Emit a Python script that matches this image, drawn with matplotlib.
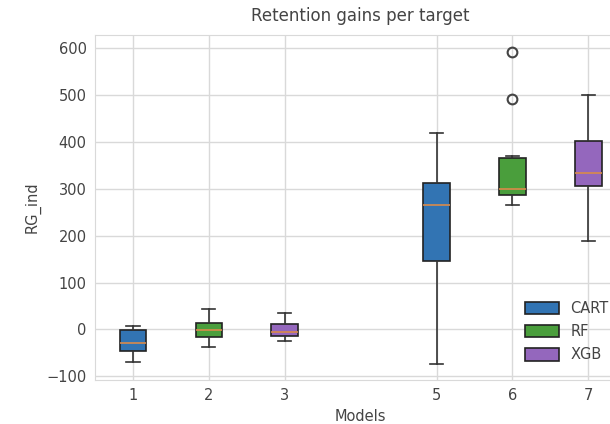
import matplotlib.pyplot as plt
from matplotlib.patches import Patch

# box statistics
models = ["CART", "RF", "XGB"]
positions = {"CART": [1, 5], "RF": [2, 6], "XGB": [3, 7]}
whislo = {"CART": [-70, -74], "RF": [-37, 266], "XGB": [-24, 189]}
q1 = {"CART": [-47, 146], "RF": [-16, 288], "XGB": [-14, 306]}
med = {"CART": [-28, 265], "RF": [-1, 300], "XGB": [-6, 333]}
q3 = {"CART": [-2, 312], "RF": [13, 365], "XGB": [11, 403]}
whishi = {"CART": [7, 419], "RF": [43, 370], "XGB": [35, 501]}
fliers = {"CART": [[], []], "RF": [[], [492, 593]], "XGB": [[], []]}
colors = {"CART": "#3274b3", "RF": "#4a9e3c", "XGB": "#9467bd"}

TEXT = "#444444"
plt.rcParams["font.family"] = ["DejaVu Sans"]

fig = plt.figure(figsize=(6.1, 4.24), dpi=100)
ax = fig.add_axes([0.1557, 0.1038, 0.871, 0.813])
ax.set_facecolor("white")

for m in models:
    stats = []
    for i in range(2):
        stats.append(dict(whislo=whislo[m][i], q1=q1[m][i], med=med[m][i],
                          q3=q3[m][i], whishi=whishi[m][i], fliers=fliers[m][i]))
    ax.bxp(stats, positions=positions[m], widths=0.35, patch_artist=True,
           boxprops=dict(facecolor=colors[m], edgecolor="#222222", linewidth=1.2),
           medianprops=dict(color="#d98a4a", linewidth=1.2),
           whiskerprops=dict(color="#333333", linewidth=1.2),
           capprops=dict(color="#333333", linewidth=1.2),
           flierprops=dict(marker="o", markerfacecolor="none",
                           markeredgecolor="#444444", markersize=7,
                           markeredgewidth=1.5),
           manage_ticks=False)

ax.set_xlim(0.5, 7.5)
ax.set_ylim(-108, 628)
ax.set_xticks([1, 2, 3, 5, 6, 7])
ax.set_xticklabels(["1", "2", "3", "5", "6", "7"])
ax.set_yticks([-100, 0, 100, 200, 300, 400, 500, 600])
ax.grid(True, color="#d9d9d9", linewidth=1.0)
ax.set_axisbelow(True)
for s in ax.spines.values():
    s.set_color("#d9d9d9")
ax.tick_params(colors=TEXT, labelsize=10.5, length=0, pad=6)

ax.set_title("Retention gains per target", fontsize=12, color=TEXT, pad=10)
ax.set_xlabel("Models", fontsize=10.5, color=TEXT)
ax.set_ylabel("RG_ind", fontsize=10.5, color=TEXT)

handles = [Patch(facecolor=colors[m], edgecolor="#222222", linewidth=1.2, label=m)
           for m in models]
ax.legend(handles=handles, loc="lower right", frameon=False, fontsize=10.5,
          labelcolor=TEXT, bbox_to_anchor=(1.0, 0.0), borderaxespad=0.8,
          handlelength=2.3, handleheight=0.9, handletextpad=0.8,
          labelspacing=0.55)

fig.savefig("out.png", dpi=100)
